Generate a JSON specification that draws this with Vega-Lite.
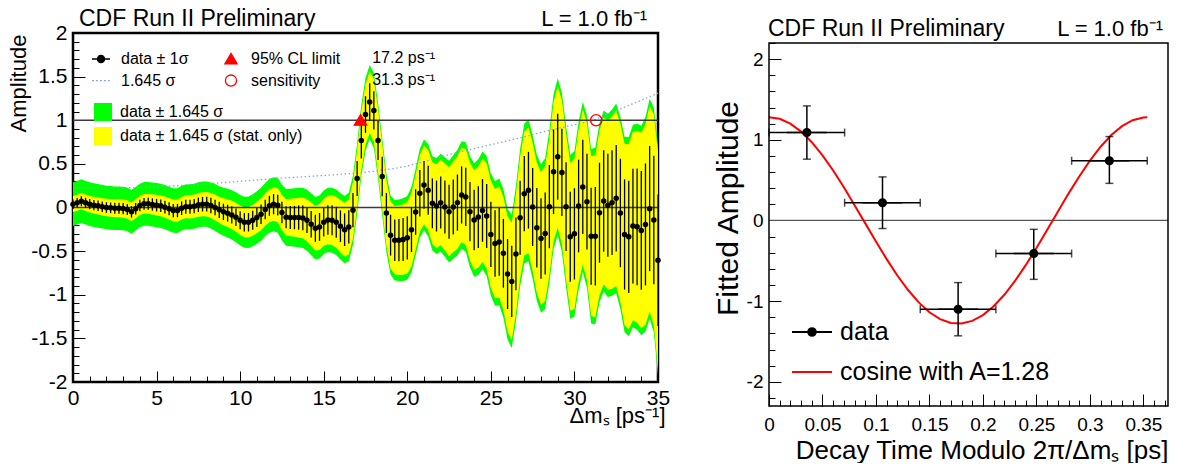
{
  "$schema": "https://vega.github.io/schema/vega-lite/v6.json",
  "padding": {"left": 5, "top": 6, "right": 0, "bottom": 0},
  "background": "white",
  "spacing": 42,
  "resolve": {
    "scale": {"shape": "independent", "fill": "independent", "stroke": "independent", "color": "independent"},
    "legend": {"shape": "independent", "fill": "independent", "stroke": "independent", "color": "independent"}
  },
  "config": {
    "font": "Liberation Sans",
    "axis": {"labelFont": "Liberation Sans", "titleFont": "Liberation Sans", "labelColor": "black", "titleColor": "black", "titleFontWeight": "normal", "tickColor": "black", "tickWidth": 1, "domain": false, "grid": false, "labelLimit": 400, "titleLimit": 800},
    "legend": {"labelFont": "Liberation Sans", "labelColor": "black", "labelLimit": 400, "symbolOpacity": 1}
  },
  "datasets": {
    "scan": [
      {"m":0,"a":0.038,"s":0.055,"y":0.09,"g":0.25},
      {"m":0.25,"a":0.054,"s":0.055,"y":0.091,"g":0.25},
      {"m":0.5,"a":0.073,"s":0.057,"y":0.093,"g":0.25},
      {"m":0.75,"a":0.054,"s":0.057,"y":0.094,"g":0.25},
      {"m":1,"a":0.038,"s":0.058,"y":0.095,"g":0.25},
      {"m":1.25,"a":0.027,"s":0.058,"y":0.096,"g":0.25},
      {"m":1.5,"a":0.019,"s":0.06,"y":0.098,"g":0.25},
      {"m":1.75,"a":0.008,"s":0.06,"y":0.099,"g":0.25},
      {"m":2,"a":0,"s":0.061,"y":0.1,"g":0.25},
      {"m":2.25,"a":-0.004,"s":0.061,"y":0.101,"g":0.25},
      {"m":2.5,"a":-0.008,"s":0.063,"y":0.103,"g":0.25},
      {"m":2.75,"a":-0.008,"s":0.063,"y":0.104,"g":0.25},
      {"m":3,"a":-0.012,"s":0.064,"y":0.105,"g":0.25},
      {"m":3.25,"a":-0.023,"s":0.064,"y":0.106,"g":0.25},
      {"m":3.5,"a":-0.05,"s":0.066,"y":0.108,"g":0.25},
      {"m":3.75,"a":-0.015,"s":0.066,"y":0.109,"g":0.25},
      {"m":4,"a":0.023,"s":0.067,"y":0.11,"g":0.25},
      {"m":4.25,"a":0.042,"s":0.068,"y":0.112,"g":0.251},
      {"m":4.5,"a":0.042,"s":0.069,"y":0.114,"g":0.251},
      {"m":4.75,"a":0.035,"s":0.071,"y":0.116,"g":0.252},
      {"m":5,"a":0.027,"s":0.072,"y":0.118,"g":0.253},
      {"m":5.25,"a":0.019,"s":0.072,"y":0.119,"g":0.253},
      {"m":5.5,"a":0.004,"s":0.074,"y":0.121,"g":0.254},
      {"m":5.75,"a":-0.015,"s":0.075,"y":0.123,"g":0.254},
      {"m":6,"a":-0.035,"s":0.076,"y":0.125,"g":0.255},
      {"m":6.25,"a":-0.035,"s":0.077,"y":0.127,"g":0.256},
      {"m":6.5,"a":-0.008,"s":0.078,"y":0.129,"g":0.256},
      {"m":6.75,"a":0.008,"s":0.08,"y":0.131,"g":0.257},
      {"m":7,"a":0.008,"s":0.081,"y":0.133,"g":0.258},
      {"m":7.25,"a":0.015,"s":0.081,"y":0.134,"g":0.258},
      {"m":7.5,"a":0.031,"s":0.083,"y":0.136,"g":0.259},
      {"m":7.75,"a":0.038,"s":0.084,"y":0.138,"g":0.259},
      {"m":8,"a":0.038,"s":0.085,"y":0.14,"g":0.26},
      {"m":8.25,"a":0.023,"s":0.088,"y":0.144,"g":0.264},
      {"m":8.5,"a":0,"s":0.09,"y":0.148,"g":0.268},
      {"m":8.75,"a":-0.027,"s":0.092,"y":0.151,"g":0.271},
      {"m":9,"a":-0.05,"s":0.094,"y":0.155,"g":0.275},
      {"m":9.25,"a":-0.065,"s":0.097,"y":0.159,"g":0.279},
      {"m":9.5,"a":-0.085,"s":0.099,"y":0.163,"g":0.283},
      {"m":9.75,"a":-0.112,"s":0.101,"y":0.166,"g":0.286},
      {"m":10,"a":-0.146,"s":0.103,"y":0.17,"g":0.29},
      {"m":10.25,"a":-0.169,"s":0.105,"y":0.173,"g":0.293},
      {"m":10.5,"a":-0.169,"s":0.106,"y":0.175,"g":0.295},
      {"m":10.75,"a":-0.146,"s":0.108,"y":0.178,"g":0.298},
      {"m":11,"a":-0.115,"s":0.109,"y":0.18,"g":0.3},
      {"m":11.25,"a":-0.077,"s":0.111,"y":0.183,"g":0.303},
      {"m":11.5,"a":-0.023,"s":0.112,"y":0.185,"g":0.305},
      {"m":11.75,"a":0.019,"s":0.114,"y":0.188,"g":0.308},
      {"m":12,"a":0.038,"s":0.116,"y":0.19,"g":0.31},
      {"m":12.25,"a":0.027,"s":0.119,"y":0.196,"g":0.315},
      {"m":12.5,"a":-0.058,"s":0.123,"y":0.203,"g":0.32},
      {"m":12.75,"a":-0.112,"s":0.127,"y":0.209,"g":0.325},
      {"m":13,"a":-0.115,"s":0.131,"y":0.215,"g":0.33},
      {"m":13.25,"a":-0.115,"s":0.134,"y":0.221,"g":0.335},
      {"m":13.5,"a":-0.115,"s":0.139,"y":0.228,"g":0.34},
      {"m":13.75,"a":-0.119,"s":0.142,"y":0.234,"g":0.345},
      {"m":14,"a":-0.146,"s":0.146,"y":0.24,"g":0.35},
      {"m":14.25,"a":-0.192,"s":0.151,"y":0.248,"g":0.354},
      {"m":14.5,"a":-0.238,"s":0.155,"y":0.255,"g":0.358},
      {"m":14.75,"a":-0.223,"s":0.16,"y":0.263,"g":0.361},
      {"m":15,"a":-0.169,"s":0.164,"y":0.27,"g":0.365},
      {"m":15.25,"a":-0.142,"s":0.169,"y":0.278,"g":0.369},
      {"m":15.5,"a":-0.146,"s":0.173,"y":0.285,"g":0.373},
      {"m":15.75,"a":-0.169,"s":0.178,"y":0.293,"g":0.376},
      {"m":16,"a":-0.215,"s":0.182,"y":0.3,"g":0.38},
      {"m":16.25,"a":-0.254,"s":0.187,"y":0.308,"g":0.386},
      {"m":16.5,"a":-0.223,"s":0.191,"y":0.315,"g":0.393},
      {"m":16.75,"a":-0.031,"s":0.196,"y":0.323,"g":0.399},
      {"m":17,"a":0.332,"s":0.201,"y":0.33,"g":0.405},
      {"m":17.25,"a":0.767,"s":0.205,"y":0.338,"g":0.411},
      {"m":17.5,"a":1.066,"s":0.21,"y":0.345,"g":0.418},
      {"m":17.75,"a":1.208,"s":0.215,"y":0.353,"g":0.424},
      {"m":18,"a":1.112,"s":0.219,"y":0.36,"g":0.43},
      {"m":18.25,"a":0.767,"s":0.223,"y":0.366,"g":0.436},
      {"m":18.5,"a":0.355,"s":0.227,"y":0.373,"g":0.443},
      {"m":18.75,"a":-0.063,"s":0.23,"y":0.379,"g":0.449},
      {"m":19,"a":-0.317,"s":0.234,"y":0.385,"g":0.455},
      {"m":19.25,"a":-0.375,"s":0.238,"y":0.391,"g":0.461},
      {"m":19.5,"a":-0.375,"s":0.242,"y":0.398,"g":0.468},
      {"m":19.75,"a":-0.367,"s":0.246,"y":0.404,"g":0.474},
      {"m":20,"a":-0.348,"s":0.249,"y":0.41,"g":0.48},
      {"m":20.25,"a":-0.256,"s":0.255,"y":0.42,"g":0.49},
      {"m":20.5,"a":-0.052,"s":0.261,"y":0.43,"g":0.5},
      {"m":20.75,"a":0.163,"s":0.267,"y":0.44,"g":0.51},
      {"m":21,"a":0.259,"s":0.274,"y":0.45,"g":0.52},
      {"m":21.25,"a":0.198,"s":0.28,"y":0.46,"g":0.53},
      {"m":21.5,"a":0.048,"s":0.286,"y":0.47,"g":0.54},
      {"m":21.75,"a":0.017,"s":0.292,"y":0.48,"g":0.55},
      {"m":22,"a":0.056,"s":0.298,"y":0.49,"g":0.56},
      {"m":22.25,"a":0.006,"s":0.304,"y":0.5,"g":0.571},
      {"m":22.5,"a":-0.048,"s":0.31,"y":0.51,"g":0.583},
      {"m":22.75,"a":0.006,"s":0.316,"y":0.52,"g":0.594},
      {"m":23,"a":0.056,"s":0.322,"y":0.53,"g":0.605},
      {"m":23.25,"a":0.144,"s":0.328,"y":0.54,"g":0.616},
      {"m":23.5,"a":0.121,"s":0.334,"y":0.55,"g":0.628},
      {"m":23.75,"a":-0.048,"s":0.34,"y":0.56,"g":0.639},
      {"m":24,"a":-0.144,"s":0.347,"y":0.57,"g":0.65},
      {"m":24.25,"a":-0.11,"s":0.353,"y":0.581,"g":0.663},
      {"m":24.5,"a":-0.033,"s":0.36,"y":0.593,"g":0.675},
      {"m":24.75,"a":-0.098,"s":0.367,"y":0.604,"g":0.688},
      {"m":25,"a":-0.309,"s":0.374,"y":0.615,"g":0.7},
      {"m":25.25,"a":-0.413,"s":0.381,"y":0.626,"g":0.713},
      {"m":25.5,"a":-0.394,"s":0.388,"y":0.638,"g":0.725},
      {"m":25.75,"a":-0.525,"s":0.395,"y":0.649,"g":0.738},
      {"m":26,"a":-0.763,"s":0.401,"y":0.66,"g":0.75},
      {"m":26.25,"a":-0.847,"s":0.409,"y":0.673,"g":0.763},
      {"m":26.5,"a":-0.532,"s":0.416,"y":0.685,"g":0.775},
      {"m":26.75,"a":-0.117,"s":0.424,"y":0.698,"g":0.788},
      {"m":27,"a":0.159,"s":0.432,"y":0.71,"g":0.8},
      {"m":27.25,"a":0.198,"s":0.44,"y":0.723,"g":0.813},
      {"m":27.5,"a":0.006,"s":0.447,"y":0.735,"g":0.825},
      {"m":27.75,"a":-0.232,"s":0.455,"y":0.748,"g":0.838},
      {"m":28,"a":-0.355,"s":0.462,"y":0.76,"g":0.85},
      {"m":28.25,"a":-0.298,"s":0.47,"y":0.773,"g":0.863},
      {"m":28.5,"a":0.01,"s":0.477,"y":0.785,"g":0.875},
      {"m":28.75,"a":0.409,"s":0.485,"y":0.798,"g":0.888},
      {"m":29,"a":0.582,"s":0.492,"y":0.81,"g":0.9},
      {"m":29.25,"a":0.402,"s":0.5,"y":0.823,"g":0.913},
      {"m":29.5,"a":0.01,"s":0.508,"y":0.835,"g":0.925},
      {"m":29.75,"a":-0.336,"s":0.516,"y":0.848,"g":0.938},
      {"m":30,"a":-0.302,"s":0.523,"y":0.86,"g":0.95},
      {"m":30.25,"a":0.017,"s":0.531,"y":0.874,"g":0.963},
      {"m":30.5,"a":0.236,"s":0.54,"y":0.888,"g":0.975},
      {"m":30.75,"a":0.067,"s":0.548,"y":0.901,"g":0.988},
      {"m":31,"a":-0.329,"s":0.556,"y":0.915,"g":1},
      {"m":31.25,"a":-0.329,"s":0.565,"y":0.929,"g":1.013},
      {"m":31.5,"a":-0.06,"s":0.573,"y":0.943,"g":1.025},
      {"m":31.75,"a":0.075,"s":0.581,"y":0.956,"g":1.038},
      {"m":32,"a":0.025,"s":0.59,"y":0.97,"g":1.05},
      {"m":32.25,"a":0.056,"s":0.601,"y":0.988,"g":1.068},
      {"m":32.5,"a":0.106,"s":0.611,"y":1.005,"g":1.085},
      {"m":32.75,"a":-0.063,"s":0.622,"y":1.023,"g":1.103},
      {"m":33,"a":-0.309,"s":0.632,"y":1.04,"g":1.12},
      {"m":33.25,"a":-0.336,"s":0.644,"y":1.06,"g":1.14},
      {"m":33.5,"a":-0.213,"s":0.657,"y":1.08,"g":1.16},
      {"m":33.75,"a":-0.221,"s":0.669,"y":1.1,"g":1.18},
      {"m":34,"a":-0.263,"s":0.681,"y":1.12,"g":1.2},
      {"m":34.25,"a":-0.194,"s":0.699,"y":1.15,"g":1.23},
      {"m":34.5,"a":-0.013,"s":0.717,"y":1.18,"g":1.26},
      {"m":34.75,"a":-0.144,"s":0.736,"y":1.21,"g":1.29},
      {"m":35,"a":-0.605,"s":0.754,"y":1.24,"g":1.32}
    ],
    "sens": [
      {"m":0,"v":0.225},{"m":1,"v":0.225},{"m":2,"v":0.225},{"m":3,"v":0.226},{"m":4,"v":0.23},
      {"m":5,"v":0.238},{"m":6,"v":0.248},{"m":7,"v":0.26},{"m":8,"v":0.272},{"m":9,"v":0.285},
      {"m":10,"v":0.3},{"m":11,"v":0.315},{"m":12,"v":0.33},{"m":13,"v":0.343},{"m":14,"v":0.355},
      {"m":15,"v":0.367},{"m":16,"v":0.38},{"m":17,"v":0.395},{"m":18,"v":0.415},{"m":19,"v":0.44},
      {"m":20,"v":0.475},{"m":21,"v":0.525},{"m":22,"v":0.58},{"m":23,"v":0.63},{"m":24,"v":0.675},
      {"m":25,"v":0.72},{"m":26,"v":0.765},{"m":27,"v":0.81},{"m":28,"v":0.86},{"m":29,"v":0.905},
      {"m":30,"v":0.95},{"m":31,"v":0.99},{"m":32,"v":1.07},{"m":33,"v":1.15},{"m":34,"v":1.23},{"m":35,"v":1.31}
    ],
    "fit": [
      {"t":0.0354,"a":1.09,"lo":0.76,"hi":1.42,"t0":0,"t1":0.0707,"series":"data"},
      {"t":0.1061,"a":0.22,"lo":-0.1,"hi":0.54,"t0":0.0707,"t1":0.1414,"series":"data"},
      {"t":0.1768,"a":-1.1,"lo":-1.43,"hi":-0.77,"t0":0.1414,"t1":0.2121,"series":"data"},
      {"t":0.2475,"a":-0.41,"lo":-0.73,"hi":-0.11,"t0":0.2121,"t1":0.2829,"series":"data"},
      {"t":0.3182,"a":0.74,"lo":0.46,"hi":1.04,"t0":0.2829,"t1":0.3536,"series":"data"}
    ],
    "cosine": [
      {"t":0,"c":1.28},{"t":0.01,"c":1.26},{"t":0.02,"c":1.2},{"t":0.03,"c":1.102},{"t":0.04,"c":0.97},
      {"t":0.05,"c":0.807},{"t":0.06,"c":0.619},{"t":0.07,"c":0.411},{"t":0.08,"c":0.19},{"t":0.09,"c":-0.036},
      {"t":0.1,"c":-0.262},{"t":0.11,"c":-0.479},{"t":0.12,"c":-0.682},{"t":0.13,"c":-0.862},{"t":0.14,"c":-1.016},
      {"t":0.15,"c":-1.138},{"t":0.16,"c":-1.223},{"t":0.17,"c":-1.271},{"t":0.18,"c":-1.278},{"t":0.19,"c":-1.245},
      {"t":0.2,"c":-1.173},{"t":0.21,"c":-1.064},{"t":0.22,"c":-0.921},{"t":0.23,"c":-0.749},{"t":0.24,"c":-0.554},
      {"t":0.25,"c":-0.342},{"t":0.26,"c":-0.118},{"t":0.27,"c":0.109},{"t":0.28,"c":0.333},{"t":0.29,"c":0.546},
      {"t":0.3,"c":0.742},{"t":0.31,"c":0.914},{"t":0.32,"c":1.059},{"t":0.33,"c":1.169},{"t":0.34,"c":1.243},
      {"t":0.35,"c":1.277},{"t":0.3536,"c":1.28}
    ]
  },
  "hconcat": [
    {
      "width": 585,
      "height": 349,
      "view": {"stroke": "black", "strokeWidth": 2.5},
      "resolve": {"axis": {"x": "independent", "y": "independent"}},
      "layer": [
        {
          "data": {"name": "scan"},
          "mark": {"type": "errorband", "band": {"opacity": 1}, "clip": true},
          "encoding": {
            "x": {"field": "m", "type": "quantitative", "scale": {"domain": [0, 35], "nice": false, "zero": false},
                  "axis": {"orient": "bottom", "values": [0,5,10,15,20,25,30,35], "ticks": false, "tickSize": 0, "labelFontSize": 21, "labelPadding": 5, "labelFlush": false, "labelOverlap": false,
                           "labelExpr": "replace(format(datum.value, '~g'), '\u2212', '-')",
                           "title": "Δmₛ [ps⁻¹]", "titleFontSize": 22, "titleAlign": "right", "titleX": 592, "titleY": 40, "titleBaseline": "alphabetic"}},
            "y": {"field": "a", "type": "quantitative", "scale": {"domain": [-2, 2], "nice": false, "zero": false},
                  "axis": {"orient": "left", "values": [-2,-1.5,-1,-0.5,0,0.5,1,1.5,2], "ticks": false, "tickSize": 0, "labelFontSize": 21, "labelPadding": 6, "labelOverlap": false,
                           "labelExpr": "replace(format(datum.value, '~g'), '\u2212', '-')",
                           "title": "Amplitude", "titleFontSize": 22, "titleX": -48, "titleY": 50, "titleAngle": 270, "titleAlign": "center", "titleBaseline": "alphabetic"}},
            "yError": {"field": "g"},
            "color": {"datum": "data ± 1.645 σ", "type": "nominal",
                      "scale": {"domain": ["data ± 1.645 σ", "data ± 1.645 σ (stat. only)"], "range": ["#00ff00", "#ffff00"]},
                      "legend": {"orient": "none", "legendX": 21, "legendY": 70, "title": null, "symbolType": "square", "symbolSize": 324, "symbolStrokeWidth": 0, "labelFontSize": 16, "labelOffset": 8, "rowPadding": 6, "padding": 0}}
          }
        },
        {
          "data": {"name": "scan"},
          "mark": {"type": "errorband", "band": {"opacity": 1}, "clip": true},
          "encoding": {
            "x": {"field": "m", "type": "quantitative",
                  "axis": {"orient": "bottom", "values": [0,5,10,15,20,25,30,35], "labels": false, "title": null, "tickSize": -11}},
            "y": {"field": "a", "type": "quantitative",
                  "axis": {"orient": "left", "values": [-2,-1.5,-1,-0.5,0,0.5,1,1.5,2], "labels": false, "title": null, "tickSize": -12}},
            "yError": {"field": "y"},
            "color": {"datum": "data ± 1.645 σ (stat. only)", "type": "nominal"}
          }
        },
        {
          "data": {"name": "sens"},
          "mark": {"type": "line", "color": "#8ea2e0", "strokeWidth": 1.3, "strokeDash": [1.5, 2.5]},
          "encoding": {
            "x": {"field": "m", "type": "quantitative",
                  "axis": {"orient": "bottom", "values": [0,1,2,3,4,5,6,7,8,9,10,11,12,13,14,15,16,17,18,19,20,21,22,23,24,25,26,27,28,29,30,31,32,33,34,35], "labels": false, "title": null, "tickSize": -6}},
            "y": {"field": "v", "type": "quantitative",
                  "axis": {"orient": "left", "values": [-2,-1.9,-1.8,-1.7,-1.6,-1.5,-1.4,-1.3,-1.2,-1.1,-1,-0.9,-0.8,-0.7,-0.6,-0.5,-0.4,-0.3,-0.2,-0.1,0,0.1,0.2,0.3,0.4,0.5,0.6,0.7,0.8,0.9,1,1.1,1.2,1.3,1.4,1.5,1.6,1.7,1.8,1.9,2], "labels": false, "title": null, "tickSize": -6}}
          }
        },
        {
          "data": {"values": [{"v": 0}, {"v": 1}]},
          "mark": {"type": "rule", "color": "#3a3a3a", "strokeWidth": 1.5},
          "encoding": {"y": {"field": "v", "type": "quantitative", "axis": null}}
        },
        {
          "data": {"name": "scan"},
          "mark": {"type": "errorbar", "color": "black", "thickness": 1.3},
          "encoding": {
            "x": {"field": "m", "type": "quantitative", "axis": null},
            "y": {"field": "a", "type": "quantitative", "axis": null},
            "yError": {"field": "s"}
          }
        },
        {
          "data": {"name": "scan"},
          "mark": {"type": "point", "filled": true, "color": "black", "opacity": 1, "size": 30, "strokeWidth": 0},
          "encoding": {
            "x": {"field": "m", "type": "quantitative", "axis": null},
            "y": {"field": "a", "type": "quantitative", "axis": null}
          }
        },
        {
          "data": {"values": [{"m": 17.2, "a": 1.0, "series": "95% CL limit"}, {"m": 31.3, "a": 1.0, "series": "sensitivity"}]},
          "mark": {"type": "point", "size": 324, "strokeWidth": 1.3, "opacity": 1},
          "encoding": {
            "x": {"field": "m", "type": "quantitative", "axis": null},
            "y": {"field": "a", "type": "quantitative", "axis": null},
            "shape": {"field": "series", "type": "nominal",
                      "scale": {"domain": ["data ± 1σ", "1.645 σ", "95% CL limit", "sensitivity"],
                                "range": ["M-1,0H1M0.4,0A0.4,0.4,0,1,1,-0.4,0A0.4,0.4,0,1,1,0.4,0Z", "M-1,0H-0.78M-0.56,0H-0.34M-0.12,0H0.1M0.32,0H0.54M0.76,0H0.98", "M0,-0.62L0.68,0.55L-0.68,0.55Z", "M0.62,0A0.62,0.62,0,1,1,-0.62,0A0.62,0.62,0,1,1,0.62,0Z"]},
                      "legend": {"orient": "none", "legendX": 18, "legendY": 16, "columns": 2, "title": null, "symbolSize": 324, "symbolStrokeWidth": 1.3, "labelFontSize": 16, "labelOffset": 10, "columnPadding": 32, "rowPadding": 3.6, "padding": 0}},
            "fill": {"field": "series", "type": "nominal",
                     "scale": {"domain": ["data ± 1σ", "1.645 σ", "95% CL limit", "sensitivity"], "range": ["black", "transparent", "red", "transparent"]}},
            "stroke": {"field": "series", "type": "nominal",
                       "scale": {"domain": ["data ± 1σ", "1.645 σ", "95% CL limit", "sensitivity"], "range": ["black", "#8ea2e0", "red", "red"]}}
          }
        },
        {
          "data": {"values": [{}]},
          "mark": {"type": "text", "text": "CDF Run II Preliminary", "align": "left", "baseline": "alphabetic", "fontSize": 23, "dx": 6, "dy": -7, "color": "black"},
          "encoding": {"x": {"datum": 0, "type": "quantitative", "axis": null}, "y": {"datum": 2, "type": "quantitative", "axis": null}}
        },
        {
          "data": {"values": [{}]},
          "mark": {"type": "text", "text": "L = 1.0 fb⁻¹", "align": "right", "baseline": "alphabetic", "fontSize": 22, "dx": -11, "dy": -7, "color": "black"},
          "encoding": {"x": {"datum": 35, "type": "quantitative", "axis": null}, "y": {"datum": 2, "type": "quantitative", "axis": null}}
        },
        {
          "data": {"values": [{}]},
          "mark": {"type": "text", "text": "17.2 ps⁻¹", "align": "left", "baseline": "alphabetic", "fontSize": 16, "color": "black"},
          "encoding": {"x": {"datum": 17.9, "type": "quantitative", "axis": null}, "y": {"datum": 1.655, "type": "quantitative", "axis": null}}
        },
        {
          "data": {"values": [{}]},
          "mark": {"type": "text", "text": "31.3 ps⁻¹", "align": "left", "baseline": "alphabetic", "fontSize": 16, "color": "black"},
          "encoding": {"x": {"datum": 17.9, "type": "quantitative", "axis": null}, "y": {"datum": 1.4, "type": "quantitative", "axis": null}}
        }
      ]
    },
    {
      "width": 399,
      "height": 373,
      "view": {"stroke": null},
      "resolve": {"axis": {"x": "independent", "y": "independent"}},
      "layer": [
        {
          "data": {"values": [{"v": 0}]},
          "mark": {"type": "rule", "color": "#555555", "strokeWidth": 1.3},
          "encoding": {"y": {"field": "v", "type": "quantitative", "axis": null, "scale": {"domain": [-2.3, 2.324], "nice": false, "zero": false}}}
        },
        {
          "data": {"name": "cosine"},
          "mark": {"type": "line", "color": "#ff0000", "strokeWidth": 2},
          "encoding": {
            "x": {"field": "t", "type": "quantitative", "scale": {"domain": [0, 0.373], "nice": false, "zero": false},
                  "axis": {"orient": "bottom", "values": [0,0.05,0.1,0.15,0.2,0.25,0.3,0.35], "ticks": false, "tickSize": 0, "labelFontSize": 19, "labelPadding": 9, "labelFlush": false, "labelOverlap": false,
                           "labelExpr": "replace(format(datum.value, '~g'), '\u2212', '-')",
                           "title": "Decay Time Modulo 2π/Δmₛ [ps]", "titleFontSize": 26, "titleAlign": "right", "titleX": 399, "titleY": 52, "titleBaseline": "alphabetic"}},
            "y": {"field": "c", "type": "quantitative", "scale": {"domain": [-2.3, 2.324], "nice": false, "zero": false},
                  "axis": {"orient": "left", "values": [-2,-1,0,1,2], "ticks": false, "tickSize": 0, "labelFontSize": 19, "labelPadding": 6, "labelOverlap": false,
                           "labelExpr": "replace(format(datum.value, '~g'), '\u2212', '-')",
                           "title": "Fitted Amplitude", "titleFontSize": 30, "titleX": -32, "titleY": 175, "titleAngle": 270, "titleAlign": "center", "titleBaseline": "alphabetic"}}
          }
        },
        {
          "data": {"name": "fit"},
          "mark": {"type": "errorbar", "color": "black", "thickness": 1.5, "ticks": {"size": 8, "thickness": 1.5, "color": "black"}},
          "encoding": {
            "x": {"field": "t0", "type": "quantitative",
                  "axis": {"orient": "bottom", "values": [0,0.05,0.1,0.15,0.2,0.25,0.3,0.35], "labels": false, "title": null, "tickSize": -12}},
            "x2": {"field": "t1"},
            "y": {"field": "a", "type": "quantitative",
                  "axis": {"orient": "left", "values": [-2,-1,0,1,2], "labels": false, "title": null, "tickSize": -12}}
          }
        },
        {
          "data": {"name": "fit"},
          "mark": {"type": "errorbar", "color": "black", "thickness": 1.5, "ticks": {"size": 8, "thickness": 1.5, "color": "black"}},
          "encoding": {
            "x": {"field": "t", "type": "quantitative",
                  "axis": {"orient": "bottom", "values": [0,0.01,0.02,0.03,0.04,0.05,0.06,0.07,0.08,0.09,0.1,0.11,0.12,0.13,0.14,0.15,0.16,0.17,0.18,0.19,0.2,0.21,0.22,0.23,0.24,0.25,0.26,0.27,0.28,0.29,0.3,0.31,0.32,0.33,0.34,0.35,0.36,0.37], "labels": false, "title": null, "tickSize": -6}},
            "y": {"field": "lo", "type": "quantitative",
                  "axis": {"orient": "left", "values": [-2.2,-2,-1.8,-1.6,-1.4,-1.2,-1,-0.8,-0.6,-0.4,-0.2,0,0.2,0.4,0.6,0.8,1,1.2,1.4,1.6,1.8,2,2.2], "labels": false, "title": null, "tickSize": -6}},
            "y2": {"field": "hi"}
          }
        },
        {
          "data": {"name": "fit"},
          "mark": {"type": "point", "size": 1600, "strokeWidth": 1.5, "opacity": 1},
          "encoding": {
            "x": {"field": "t", "type": "quantitative", "axis": null},
            "y": {"field": "a", "type": "quantitative", "axis": null},
            "shape": {"field": "series", "type": "nominal",
                      "scale": {"domain": ["data", "cosine with A=1.28"], "range": ["M-1,0H1M0.19,0A0.19,0.19,0,1,1,-0.19,0A0.19,0.19,0,1,1,0.19,0Z", "M-1,0H1"]},
                      "legend": {"orient": "none", "legendX": 22, "legendY": 278, "title": null, "symbolSize": 1600, "symbolStrokeWidth": 2, "labelFontSize": 25, "labelOffset": 7, "rowPadding": 6, "padding": 0}},
            "fill": {"field": "series", "type": "nominal", "scale": {"domain": ["data", "cosine with A=1.28"], "range": ["black", "transparent"]}},
            "stroke": {"field": "series", "type": "nominal", "scale": {"domain": ["data", "cosine with A=1.28"], "range": ["black", "#ff0000"]}}
          }
        },
        {
          "data": {"values": [{}]},
          "mark": {"type": "rect", "filled": false, "color": "black", "strokeWidth": 1.5},
          "encoding": {
            "x": {"datum": 0, "type": "quantitative", "axis": null},
            "x2": {"datum": 0.373},
            "y": {"datum": -2.3, "type": "quantitative", "axis": null},
            "y2": {"datum": 2.2}
          }
        },
        {
          "data": {"values": [{}]},
          "mark": {"type": "text", "text": "CDF Run II Preliminary", "align": "left", "baseline": "alphabetic", "fontSize": 23, "dx": -1, "dy": -7, "color": "black"},
          "encoding": {"x": {"datum": 0, "type": "quantitative", "axis": null}, "y": {"datum": 2.2, "type": "quantitative", "axis": null}}
        },
        {
          "data": {"values": [{}]},
          "mark": {"type": "text", "text": "L = 1.0 fb⁻¹", "align": "right", "baseline": "alphabetic", "fontSize": 22, "dx": -5, "dy": -7, "color": "black"},
          "encoding": {"x": {"datum": 0.373, "type": "quantitative", "axis": null}, "y": {"datum": 2.2, "type": "quantitative", "axis": null}}
        }
      ]
    }
  ]
}
